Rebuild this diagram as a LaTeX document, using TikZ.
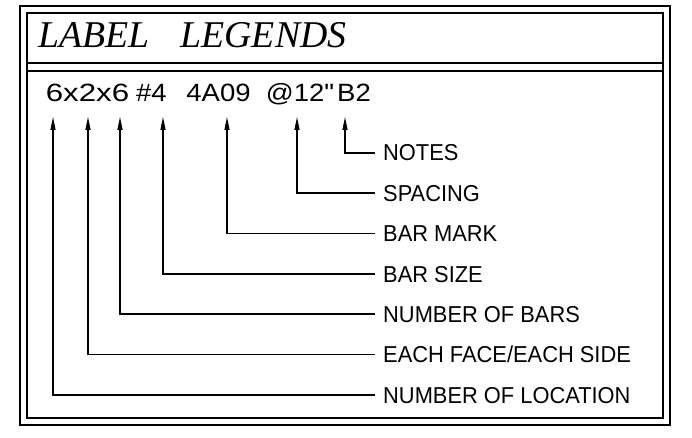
\documentclass[tikz,border=0pt]{standalone}
\usepackage{fontspec}
\usetikzlibrary{arrows.meta}
\newfontfamily\cadfont{Liberation Sans}[FakeStretch=0.95]
\newfontfamily\codefont{Liberation Sans}[FakeStretch=1.1]
\newfontfamily\titlefont{Liberation Serif}
\begin{document}
\begin{tikzpicture}[
    x=1pt, y=-1pt,
    frame/.style={line width=1.2pt},
    legend/.style={anchor=west, inner xsep=8pt, inner ysep=0pt, text height=16pt, text depth=0pt, font=\cadfont\fontsize{23}{24}\selectfont},
    code/.style={anchor=base, inner sep=0pt, font=\codefont\fontsize{25}{26}\selectfont},
    arrow/.style={-{Triangle[length=13pt,width=5pt]}, line width=1.1pt}
]
\useasboundingbox (0,0) rectangle (692,438);

% Frame
\draw[frame] (20,6) rectangle (670,425);
\draw[frame] (27,13) rectangle (663,418);
\draw[frame] (27,63) -- (663,63);
\draw[frame] (27,71) -- (663,71);

% Title
\node[anchor=base west, inner sep=0pt, font=\titlefont\itshape\fontsize{37.8}{40}\selectfont] (title) at (38,48) {LABEL\hspace{31pt}LEGENDS};

% Label string
\node[code] (dims) at (87.5,102) {\fontsize{25}{26}\selectfont\addfontfeature{FakeStretch=1.25}6x2x6};
\node[code] (size) at (151.5,102) {\#4};
\node[code] (mark) at (218.5,102) {4A09};
\node[code] (spc) at (300,102) {@12"};
\node[code] (note) at (354,102) {B2};

% Arrow tips
\coordinate (t1) at (53,117);
\coordinate (t2) at (88,117);
\coordinate (t3) at (120,117);
\coordinate (t4) at (163,117);
\coordinate (t5) at (227,117);
\coordinate (t6) at (297,117);
\coordinate (t7) at (345,117);

% Legends
\node[legend] (notes) at (375,153) {NOTES};
\node[legend] (spacing) at (375,193) {SPACING};
\node[legend] (barmark) at (375,233.5) {BAR MARK};
\node[legend] (barsize) at (375,274) {BAR SIZE};
\node[legend] (numbars) at (375,314) {NUMBER OF BARS};
\node[legend] (face) at (375,354.5) {EACH FACE/EACH SIDE};
\node[legend] (loc) at (375,395) {NUMBER OF LOCATION};

% Leaders
\draw[arrow] (notes.west) -| (t7);
\draw[arrow] (spacing.west) -| (t6);
\draw[arrow] (barmark.west) -| (t5);
\draw[arrow] (barsize.west) -| (t4);
\draw[arrow] (numbars.west) -| (t3);
\draw[arrow] (face.west) -| (t2);
\draw[arrow] (loc.west) -| (t1);
\end{tikzpicture}
\end{document}
